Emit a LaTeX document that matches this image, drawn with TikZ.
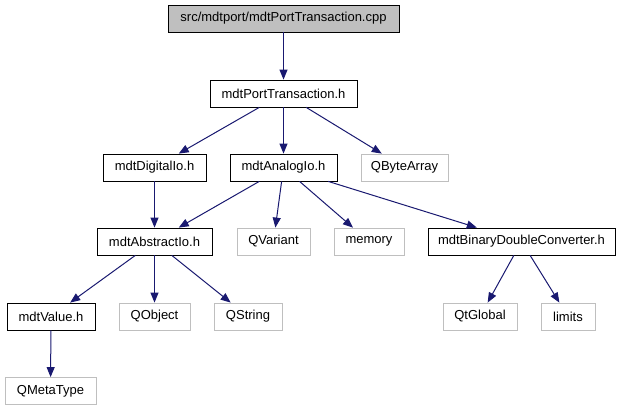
\documentclass[tikz,border=0pt]{standalone}
\usepackage{fontspec}
\setmainfont{Liberation Sans}
\usetikzlibrary{arrows.meta}
\definecolor{edgeblue}{HTML}{191970}
\definecolor{extgrey}{HTML}{BFBFBF}
\tikzset{
  box/.style={draw=black, thick, minimum height=27pt, inner sep=0pt, font=\fontsize{13}{15}\selectfont},
  extbox/.style={box, draw=extgrey},
  rootbox/.style={box, fill=extgrey},
  dep/.style={draw=edgeblue, line width=1pt, -{Triangle[length=10pt,width=8pt]}}
}
\begin{document}
\begin{tikzpicture}[x=1pt,y=-1pt]
\useasboundingbox (0,0) rectangle (624,411);
\node[rootbox, minimum width=231pt] (cpp) at (283.5,18.5) {src/mdtport/mdtPortTransaction.cpp};
\node[box, minimum width=147pt] (pth) at (283.5,93.5) {mdtPortTransaction.h};
\node[box, minimum width=103pt] (dig) at (154.5,167.5) {mdtDigitalIo.h};
\node[box, minimum width=107pt] (ana) at (283.5,167.5) {mdtAnalogIo.h};
\node[extbox, minimum width=87pt] (qba) at (404.5,167.5) {QByteArray};
\node[box, minimum width=115pt] (abs) at (154.5,241.5) {mdtAbstractIo.h};
\node[extbox, minimum width=73pt] (qvar) at (273.5,241.5) {QVariant};
\node[extbox, minimum width=70pt] (mem) at (369,241.5) {memory};
\node[box, minimum width=187pt] (bdc) at (521.5,241.5) {mdtBinaryDoubleConverter.h};
\node[box, minimum width=88pt] (val) at (51,316.5) {mdtValue.h};
\node[extbox, minimum width=71pt] (qobj) at (154.5,316.5) {QObject};
\node[extbox, minimum width=68pt] (qstr) at (248,316.5) {QString};
\node[extbox, minimum width=74pt] (qtg) at (480,316.5) {QtGlobal};
\node[extbox, minimum width=54pt] (lim) at (568,316.5) {limits};
\node[extbox, minimum width=91pt] (qmt) at (50.5,391) {QMetaType};
\draw[dep] (cpp) -- (pth);
\draw[dep] (pth) -- (dig);
\draw[dep] (pth) -- (ana);
\draw[dep] (pth) -- (qba);
\draw[dep] (dig) -- (abs);
\draw[dep] (ana) -- (abs);
\draw[dep] (ana) -- (qvar);
\draw[dep] (ana) -- (mem);
\draw[dep] (ana) -- (bdc);
\draw[dep] (abs) -- (val);
\draw[dep] (abs) -- (qobj);
\draw[dep] (abs) -- (qstr);
\draw[dep] (val) -- (qmt);
\draw[dep] (bdc) -- (qtg);
\draw[dep] (bdc) -- (lim);
\end{tikzpicture}
\end{document}
